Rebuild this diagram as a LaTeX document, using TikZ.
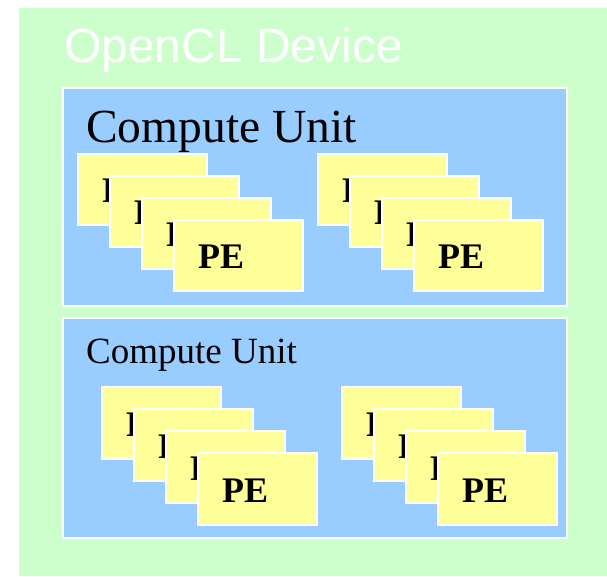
\documentclass[tikz,border=0pt]{standalone}
\usepackage{fontspec}
\setmainfont{Liberation Serif}
\newfontfamily\arialfont{Liberation Sans}
\definecolor{devgreen}{HTML}{CCFFCC}
\definecolor{cublue}{HTML}{99CCFF}
\definecolor{peyellow}{HTML}{FFFF99}
\tikzset{
  devbox/.style={rectangle, fill=devgreen, draw=none, inner sep=0pt, anchor=north west},
  cubox/.style={rectangle, fill=cublue, draw=white, line width=1.5pt, inner sep=0pt, anchor=north west},
  pebox/.style={rectangle, fill=peyellow, draw=white, line width=1.5pt, inner sep=0pt, anchor=north west},
  petext/.style={inner sep=0pt, anchor=west, font=\fontsize{36}{40}\selectfont\bfseries},
  devtitle/.style={inner sep=0pt, anchor=base west, text=white, font=\arialfont\fontsize{48}{52}\selectfont},
  cutitle/.style={inner sep=0pt, anchor=base west, text=black},
}
% A stack of four processing elements: name, left x, top y, width, height
\newcommand\pestack[5]{%
  \foreach \k in {0,...,3} {
    \node[pebox, minimum width=#4pt, minimum height=#5pt] (#1-\k) at ({#2+32*\k},{#3+22*\k}) {};
    \node[petext] (#1-\k-t) at ([xshift=25pt, yshift=-1.5pt]#1-\k.west) {PE};
  }%
}
\begin{document}
\begin{tikzpicture}[x=1pt,y=-1pt]
  \useasboundingbox (0,0) rectangle (607,576);
  % device area
  \node[devbox, minimum width=588pt, minimum height=568pt] (dev) at (19,8) {};
  \node[devtitle] (devlabel) at (64,62) {OpenCL Device};
  % first compute unit
  \node[cubox, minimum width=504pt, minimum height=218pt] (cu1) at (62,87) {};
  \node[cutitle, font=\fontsize{47.5}{50}\selectfont] (cu1label) at (86,142) {Compute Unit};
  \pestack{cuAa}{77}{153}{129}{71}
  \pestack{cuAb}{317}{153}{129}{71}
  % second compute unit
  \node[cubox, minimum width=504pt, minimum height=220pt] (cu2) at (62,317) {};
  \node[cutitle, font=\fontsize{37}{40}\selectfont] (cu2label) at (86,363) {Compute Unit};
  \pestack{cuBa}{101}{386}{119}{72}
  \pestack{cuBb}{341}{386}{119}{72}
\end{tikzpicture}
\end{document}
